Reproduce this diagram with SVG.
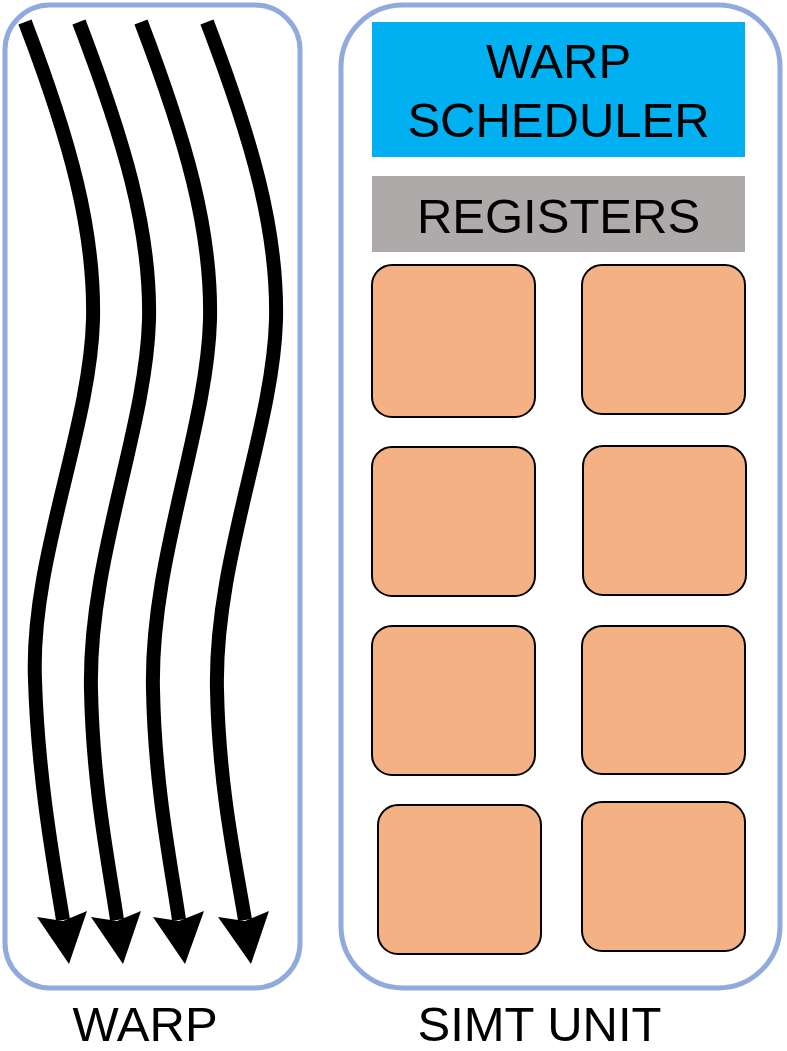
<svg xmlns="http://www.w3.org/2000/svg" width="787" height="1051" viewBox="0 0 787 1051">
<style>
.frame{fill:#fff;stroke:#8FAADC;stroke-width:5}
.core{fill:#F4B183;stroke:#000;stroke-width:2}
.thread{fill:none;stroke:#000;stroke-width:14}
.head{fill:#000}
.t{font-family:"Liberation Sans",Arial,sans-serif;font-size:49px;fill:#000;text-anchor:middle}
</style>
<rect width="787" height="1051" fill="#fff"/>
<g id="warp">
<rect class="frame" x="5" y="5" width="295" height="983" rx="45"/>
</g>
<g id="simt-unit">
<rect class="frame" x="341" y="5" width="439" height="983" rx="62"/>
</g>
<g id="warp-scheduler">
<rect x="372" y="22" width="373" height="135" fill="#00B0F0"/>
<text class="t" x="558.5" y="78">WARP</text>
<text class="t" x="558.5" y="137">SCHEDULER</text>
</g>
<g id="registers">
<rect x="372" y="176" width="373" height="76" fill="#AEAAAA"/>
<text class="t" x="558.5" y="233">REGISTERS</text>
</g>
<g id="core-1"><rect class="core" x="372" y="265" width="163" height="152" rx="20"/></g>
<g id="core-2"><rect class="core" x="582" y="265" width="163" height="149" rx="20"/></g>
<g id="core-3"><rect class="core" x="372" y="447" width="163" height="149" rx="20"/></g>
<g id="core-4"><rect class="core" x="583" y="446" width="163" height="149" rx="20"/></g>
<g id="core-5"><rect class="core" x="372" y="626" width="163" height="149" rx="20"/></g>
<g id="core-6"><rect class="core" x="582" y="626" width="163" height="148" rx="20"/></g>
<g id="core-7"><rect class="core" x="378" y="805" width="163" height="149" rx="20"/></g>
<g id="core-8"><rect class="core" x="582" y="802" width="163" height="149" rx="20"/></g>
<g id="connectors">
<path class="thread" d="M25,22 C70,140 95,230 93,320 C90,430 30,560 35,680 C38,780 55,870 63,920"/>
<polygon class="head" points="37,917 69,964 87,911 63,921"/>
<path class="thread" d="M79,22 C124,140 151,230 149,320 C146,430 88,560 91,690 C93,790 110,870 117,920"/>
<polygon class="head" points="91,917 123,964 141,911 117,921"/>
<path class="thread" d="M141,22 C186,140 212,230 210,320 C207,430 150,560 153,690 C155,790 172,870 179,920"/>
<polygon class="head" points="153,917 185,964 204,911 179,921"/>
<path class="thread" d="M207,22 C252,140 278,230 276,320 C273,430 214,560 217,690 C219,790 237,870 245,920"/>
<polygon class="head" points="218,917 251,964 269,911 245,921"/>
</g>
<g id="labels">
<text class="t" x="145" y="1041">WARP</text>
<text class="t" x="539.5" y="1041">SIMT UNIT</text>
</g>
</svg>
